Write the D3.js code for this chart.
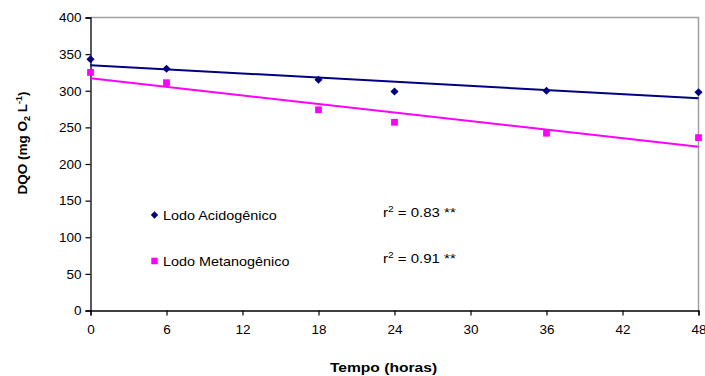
<!DOCTYPE html>
<html>
<head>
<meta charset="utf-8">
<script src="https://cdn.jsdelivr.net/npm/d3@7"></script>
<style>
  body { margin: 0; background: #fff; }
  text { font-family: "Liberation Sans", Arial, sans-serif; }
</style>
</head>
<body>
<svg id="chart" width="705" height="376"></svg>
<script>
const hours = [0, 6, 18, 24, 36, 48];
const acidogenico = [343, 330, 315, 299, 300, 298];
const metanogenico = [325, 311, 274, 257, 242, 236];
const xTicks = [0, 6, 12, 18, 24, 30, 36, 42, 48];
const yTicks = [0, 50, 100, 150, 200, 250, 300, 350, 400];
const seriesNames = ['Lodo Acidogênico', 'Lodo Metanogênico'];
const r2Labels = ['0.83 **', '0.91 **'];

const svg = d3.select('#chart');
const plotLeft = 90.5, plotRight = 698.5, plotTop = 17.5, plotBottom = 310.5;

const x = d3.scaleLinear().domain([0, 48]).range([plotLeft, plotRight]);
const y = d3.scaleLinear().domain([0, 400]).range([plotBottom, plotTop]);

// the original text is a bit wider than Liberation Sans
const stretch = (sel, px, py, sx) =>
  sel.attr('transform', `translate(${px},${py}) scale(${sx},1)`);

// rotated square, as in the original markers
const rhombus = {
  draw(ctx, size) {
    const r = Math.sqrt(size) * 0.63;
    ctx.moveTo(0, -r); ctx.lineTo(r, 0); ctx.lineTo(0, r); ctx.lineTo(-r, 0); ctx.closePath();
  }
};

// plot frame (gray top and right)
svg.append('path')
  .attr('d', `M${plotLeft},${plotTop}H${plotRight}V${plotBottom}`)
  .attr('fill', 'none').attr('stroke', '#a0a0a0').attr('stroke-width', 1.5);

// axes
const yAxis = svg.append('g').attr('transform', `translate(${plotLeft},0)`)
  .call(d3.axisLeft(y).tickValues(yTicks).tickSize(5).tickPadding(4));
const xAxis = svg.append('g').attr('transform', `translate(0,${plotBottom})`)
  .call(d3.axisBottom(x).tickValues(xTicks).tickSize(5).tickPadding(9));
[xAxis, yAxis].forEach(g => {
  g.select('.domain').attr('stroke', '#000').attr('stroke-width', 1.3);
  g.selectAll('.tick line').attr('stroke', '#000').attr('stroke-width', 1.2);
  g.selectAll('.tick text').attr('fill', '#000')
    .style('font-size', '13.5px').style('font-family', '"Liberation Sans", Arial, sans-serif');
});

// linear regression
function fit(xs, ys) {
  const mx = d3.mean(xs), my = d3.mean(ys);
  let sxy = 0, sxx = 0;
  xs.forEach((v, i) => { sxy += (v - mx) * (ys[i] - my); sxx += (v - mx) ** 2; });
  const b = sxy / sxx;
  return { a: my - b * mx, b };
}

const series = [
  { values: acidogenico, color: '#000080', shape: rhombus, size: 42 },
  { values: metanogenico, color: '#ff00ff', shape: d3.symbolSquare, size: 46 }
];

series.forEach(s => {
  const f = fit(hours, s.values);
  svg.append('line')
    .attr('x1', x(0)).attr('y1', y(f.a))
    .attr('x2', x(48)).attr('y2', y(f.a + f.b * 48))
    .attr('stroke', s.color).attr('stroke-width', 2);
});

series.forEach(s => {
  svg.append('g').selectAll('path')
    .data(hours.map((h, i) => [h, s.values[i]]))
    .join('path')
    .attr('transform', d => `translate(${x(d[0])},${y(d[1])})`)
    .attr('d', d3.symbol().type(s.shape).size(s.size))
    .attr('fill', s.color);
});

// legend
const legendY = [215, 261];
series.forEach((s, i) => {
  svg.append('path')
    .attr('transform', `translate(154.5,${legendY[i]})`)
    .attr('d', d3.symbol().type(s.shape).size(i === 0 ? 34 : 42))
    .attr('fill', s.color);
  svg.append('text')
    .call(stretch, 163, legendY[i] + 4.5, 1.2)
    .style('font-size', '12px').attr('fill', '#000')
    .text(seriesNames[i]);
  const t = svg.append('text')
    .call(stretch, 383, legendY[i] + 2, 1.2)
    .style('font-size', '12.5px').attr('fill', '#000');
  t.append('tspan').text('r');
  t.append('tspan').attr('dy', -5).style('font-size', '8.5px').text('2');
  t.append('tspan').attr('dy', 5).text(' = ' + r2Labels[i]);
});

// axis titles
svg.append('text')
  .call(stretch, 383.5, 372, 1.25)
  .attr('text-anchor', 'middle')
  .style('font-size', '12.5px').style('font-weight', 'bold')
  .text('Tempo (horas)');

const yt = svg.append('text')
  .attr('transform', 'translate(27,143) rotate(-90)')
  .attr('text-anchor', 'middle')
  .style('font-size', '13.5px').style('font-weight', 'bold');
yt.append('tspan').text('DQO  (mg O');
yt.append('tspan').attr('dy', 3).style('font-size', '9px').text('2');
yt.append('tspan').attr('dy', -3).text(' L');
yt.append('tspan').attr('dy', -5).style('font-size', '9px').text('-1');
yt.append('tspan').attr('dy', 5).text(')');
</script>
</body>
</html>
